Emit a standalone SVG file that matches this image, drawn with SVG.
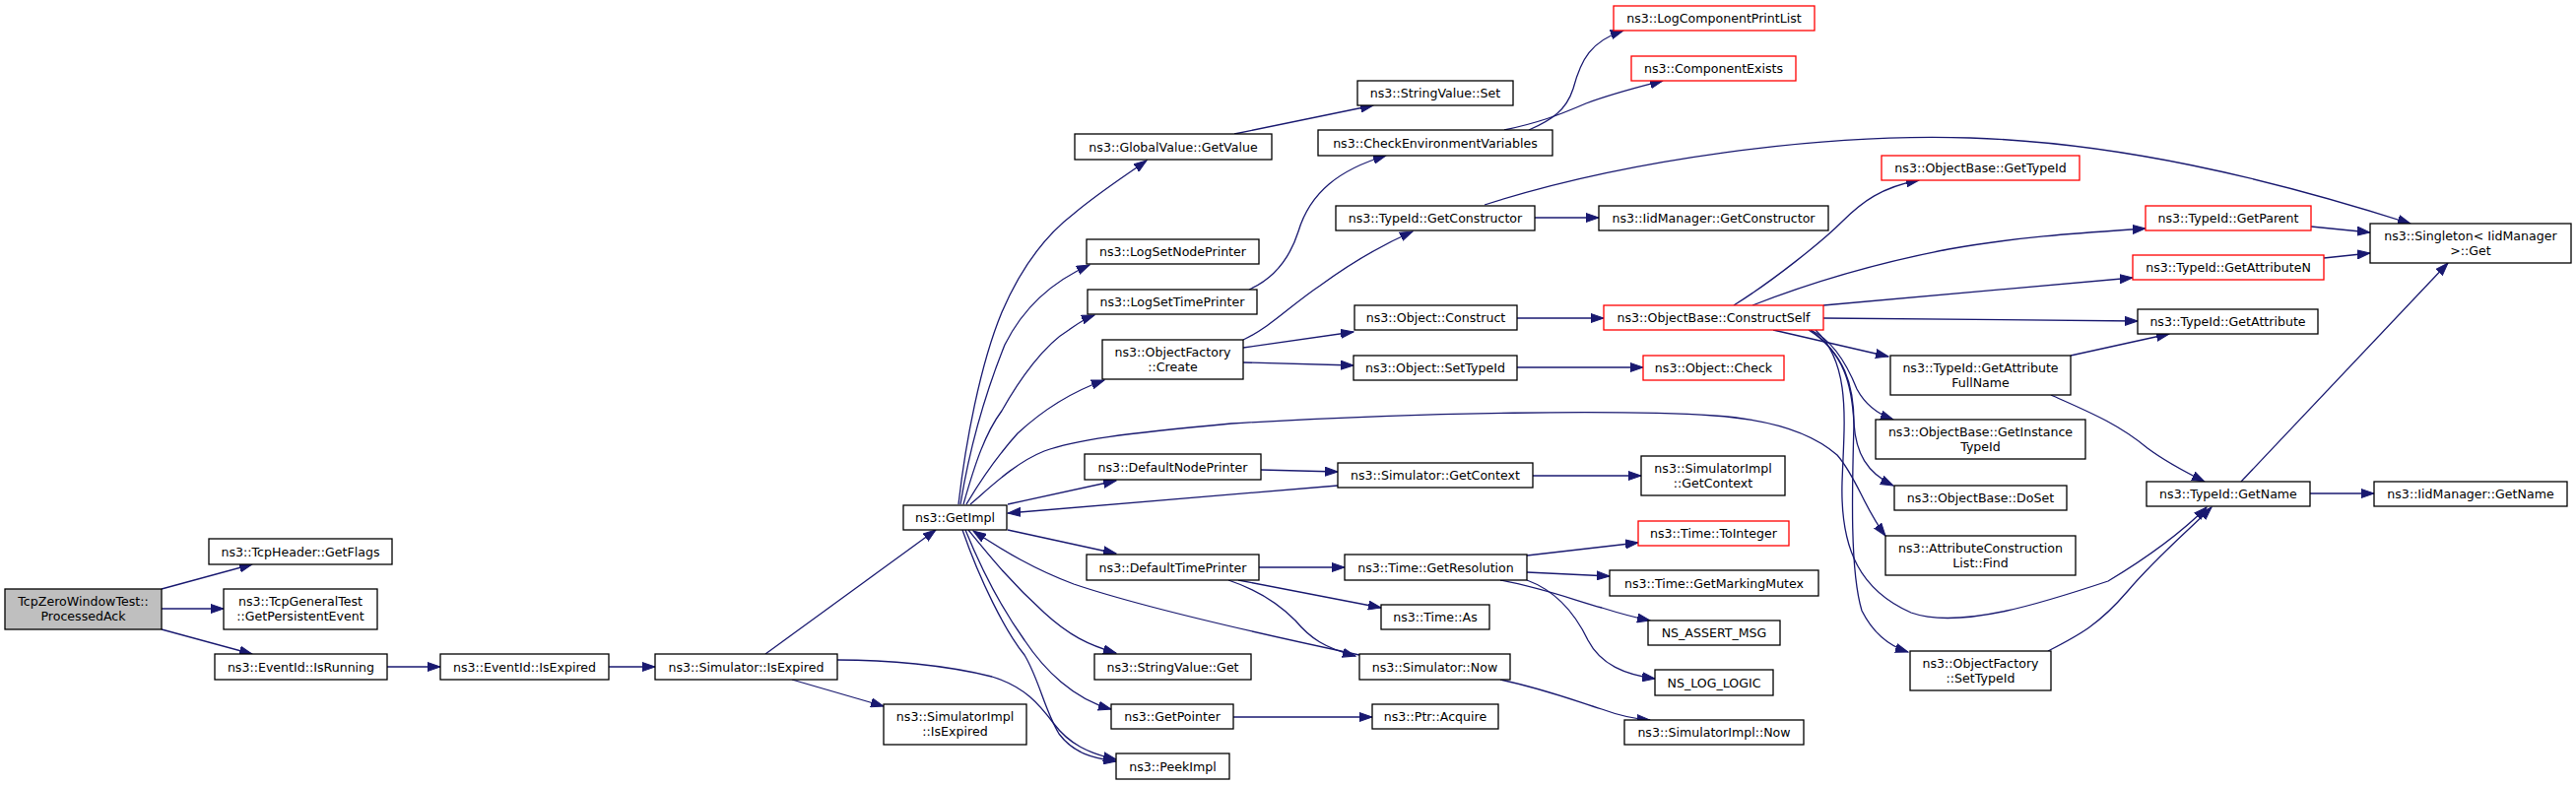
<svg xmlns="http://www.w3.org/2000/svg" width="2615" height="797" viewBox="0 0 2615 797">
<defs>
<marker id="a" markerUnits="userSpaceOnUse" markerWidth="14" markerHeight="10" viewBox="0 -5 14 10" refX="13" refY="0" orient="auto"><path d="M0,-4.5 L13,0 L0,4.5 z" fill="#191970" stroke="#191970" stroke-width="1"/></marker>
<style>
rect{fill:#fff;stroke:#000;stroke-width:1.3}
.r rect{stroke:#ff0000}
.root rect{fill:#bfbfbf}
text{font-family:"DejaVu Sans",sans-serif;font-size:12.6px;text-anchor:middle;fill:#000}
#edges path{fill:none;stroke:#191970;stroke-width:1.3;marker-end:url(#a)}
</style>
</defs>
<rect x="0" y="0" width="2615" height="797" style="fill:#fff;stroke:none"/>
<g id="edges">
<path d="M164,598 L256,573"/>
<path d="M164,618 L227,618"/>
<path d="M164,639 L256,664"/>
<path d="M393,677 L447,677"/>
<path d="M618,677 L665,677"/>
<path d="M777,664 L950,538"/>
<path d="M804,690 L897,717"/>
<path d="M850,670 C900,670 960,675 1007,687 C1040,697 1055,715 1070,735 C1085,755 1105,765 1133,771"/>
<path d="M973,512 C980,450 995,370 1017,317 C1035,275 1060,240 1090,217 C1115,196 1140,180 1164,163"/>
<path d="M975,512 C985,450 1000,400 1020,350 C1040,310 1070,285 1106,269"/>
<path d="M978,512 C990,470 1000,440 1017,417 C1035,385 1060,350 1085,335 C1095,328 1100,324 1111,320"/>
<path d="M981,512 C1000,480 1015,460 1033,440 C1060,415 1090,397 1121,386"/>
<path d="M985,512 C1005,495 1030,470 1060,458 C1090,447 1140,440 1250,430 C1450,418 1650,416 1740,422 C1800,426 1840,440 1865,462 C1885,485 1892,515 1914,544"/>
<path d="M1253,136 L1394,107"/>
<path d="M1268,294 C1295,282 1310,260 1318,235 C1330,195 1360,172 1407,158"/>
<path d="M1552,132 C1575,122 1590,112 1597,90 C1605,60 1615,42 1648,31"/>
<path d="M1527,132 C1560,125 1580,118 1610,105 C1640,94 1665,88 1688,82"/>
<path d="M1262,345 C1290,332 1310,310 1340,290 C1370,268 1400,250 1434,235"/>
<path d="M1558,221 L1623,221"/>
<path d="M1507,208 C1650,162 1850,135 2000,140 C2150,145 2300,180 2447,227"/>
<path d="M1262,353 L1374,337"/>
<path d="M1262,368 L1374,371"/>
<path d="M1540,323 L1628,323"/>
<path d="M1540,373 L1668,373"/>
<path d="M1760,310 C1800,285 1850,245 1870,225 C1890,205 1910,190 1948,183"/>
<path d="M1779,310 C1830,290 1900,268 1978,253 C2050,240 2120,236 2178,232"/>
<path d="M1851,310 L2165,282"/>
<path d="M1851,323 L2170,326"/>
<path d="M1800,335 L1917,362"/>
<path d="M1838,335 C1860,345 1875,370 1885,395 C1893,410 1905,420 1922,426"/>
<path d="M1836,335 C1872,358 1880,390 1882,430 C1884,460 1895,480 1922,493"/>
<path d="M1838,335 C1872,360 1882,390 1882,430 C1880,500 1878,580 1890,620 C1900,640 1915,655 1937,662"/>
<path d="M1843,335 C1880,370 1872,430 1870,490 C1868,560 1890,600 1940,622 C1990,640 2080,610 2140,590 C2190,560 2220,535 2240,515"/>
<path d="M2346,230 L2406,236"/>
<path d="M2359,262 L2406,257"/>
<path d="M2102,361 L2202,339"/>
<path d="M2082,401 C2120,418 2150,430 2180,455 C2200,470 2220,480 2238,489"/>
<path d="M2275,489 L2485,267"/>
<path d="M2345,501 L2410,501"/>
<path d="M2079,661 C2110,645 2130,635 2160,600 C2190,565 2220,540 2245,515"/>
<path d="M1023,512 L1133,488"/>
<path d="M1280,477 L1358,479"/>
<path d="M1358,493 L1023,521"/>
<path d="M1556,483 L1666,483"/>
<path d="M1023,538 L1133,562"/>
<path d="M1278,576 L1365,576"/>
<path d="M1257,589 L1402,617"/>
<path d="M1247,589 C1280,600 1300,615 1315,630 C1330,648 1345,658 1376,666"/>
<path d="M1380,665 C1300,648 1170,620 1090,593 C1050,578 1020,560 988,539"/>
<path d="M983,538 C1005,565 1025,590 1060,622 C1085,645 1105,655 1133,663"/>
<path d="M980,538 C995,575 1015,615 1040,650 C1060,680 1090,710 1128,720"/>
<path d="M977,538 C995,590 1020,640 1040,665 C1055,690 1060,720 1075,745 C1090,765 1110,770 1133,773"/>
<path d="M1550,564 L1663,551"/>
<path d="M1550,581 L1634,585"/>
<path d="M1523,589 C1570,598 1600,610 1626,617 C1645,623 1660,627 1675,630"/>
<path d="M1550,589 C1580,600 1600,625 1612,650 C1625,675 1650,685 1680,689"/>
<path d="M1523,690 C1570,700 1600,712 1626,720 C1645,727 1660,730 1675,731"/>
<path d="M1252,728 L1393,728"/>
</g>
<g id="n1" class="root"><rect x="5" y="598" width="159" height="41"/><text x="84.5" y="615">TcpZeroWindowTest::</text><text x="84.5" y="630">ProcessedAck</text></g>
<g id="n2"><rect x="212" y="547" width="186" height="26"/><text x="305" y="564.5">ns3::TcpHeader::GetFlags</text></g>
<g id="n3"><rect x="227" y="598" width="156" height="41"/><text x="305" y="615">ns3::TcpGeneralTest</text><text x="305" y="630">::GetPersistentEvent</text></g>
<g id="n4"><rect x="218" y="664" width="175" height="26"/><text x="305.5" y="681.5">ns3::EventId::IsRunning</text></g>
<g id="n5"><rect x="447" y="664" width="171" height="26"/><text x="532.5" y="681.5">ns3::EventId::IsExpired</text></g>
<g id="n6"><rect x="665" y="664" width="185" height="26"/><text x="757.5" y="681.5">ns3::Simulator::IsExpired</text></g>
<g id="n7"><rect x="917" y="513" width="105" height="25"/><text x="969.5" y="530">ns3::GetImpl</text></g>
<g id="n8"><rect x="897" y="715" width="145" height="41"/><text x="969.5" y="732">ns3::SimulatorImpl</text><text x="969.5" y="747">::IsExpired</text></g>
<g id="n9"><rect x="1133" y="765" width="115" height="26"/><text x="1190.5" y="782.5">ns3::PeekImpl</text></g>
<g id="n10"><rect x="1091" y="136" width="200" height="26"/><text x="1191" y="153.5">ns3::GlobalValue::GetValue</text></g>
<g id="n11"><rect x="1378" y="82" width="158" height="25"/><text x="1457" y="99">ns3::StringValue::Set</text></g>
<g id="n12"><rect x="1103" y="243" width="175" height="25"/><text x="1190.5" y="260">ns3::LogSetNodePrinter</text></g>
<g id="n13"><rect x="1104" y="294" width="172" height="25"/><text x="1190" y="311">ns3::LogSetTimePrinter</text></g>
<g id="n14"><rect x="1338" y="132" width="238" height="26"/><text x="1457" y="149.5">ns3::CheckEnvironmentVariables</text></g>
<g id="n15" class="r"><rect x="1638" y="6" width="204" height="25"/><text x="1740" y="23">ns3::LogComponentPrintList</text></g>
<g id="n16" class="r"><rect x="1656" y="57" width="167" height="25"/><text x="1739.5" y="74">ns3::ComponentExists</text></g>
<g id="n17"><rect x="1119" y="345" width="143" height="40"/><text x="1190.5" y="362">ns3::ObjectFactory</text><text x="1190.5" y="377">::Create</text></g>
<g id="n18"><rect x="1356" y="209" width="202" height="25"/><text x="1457" y="226">ns3::TypeId::GetConstructor</text></g>
<g id="n19"><rect x="1623" y="209" width="233" height="25"/><text x="1739.5" y="226">ns3::IidManager::GetConstructor</text></g>
<g id="n20"><rect x="1375" y="310" width="165" height="25"/><text x="1457.5" y="327">ns3::Object::Construct</text></g>
<g id="n21"><rect x="1374" y="361" width="166" height="25"/><text x="1457" y="378">ns3::Object::SetTypeId</text></g>
<g id="n22" class="r"><rect x="1628" y="310" width="223" height="25"/><text x="1739.5" y="327">ns3::ObjectBase::ConstructSelf</text></g>
<g id="n23" class="r"><rect x="1668" y="361" width="143" height="25"/><text x="1739.5" y="378">ns3::Object::Check</text></g>
<g id="n24" class="r"><rect x="1910" y="158" width="201" height="25"/><text x="2010.5" y="175">ns3::ObjectBase::GetTypeId</text></g>
<g id="n25" class="r"><rect x="2178" y="209" width="168" height="25"/><text x="2262" y="226">ns3::TypeId::GetParent</text></g>
<g id="n26" class="r"><rect x="2165" y="259" width="194" height="25"/><text x="2262" y="276">ns3::TypeId::GetAttributeN</text></g>
<g id="n27"><rect x="2406" y="227" width="204" height="40"/><text x="2508" y="244">ns3::Singleton&lt; IidManager</text><text x="2508" y="259">&gt;::Get</text></g>
<g id="n28"><rect x="2170" y="314" width="183" height="25"/><text x="2261.5" y="331">ns3::TypeId::GetAttribute</text></g>
<g id="n29"><rect x="1919" y="361" width="183" height="40"/><text x="2010.5" y="378">ns3::TypeId::GetAttribute</text><text x="2010.5" y="393">FullName</text></g>
<g id="n30"><rect x="1904" y="426" width="213" height="40"/><text x="2010.5" y="443">ns3::ObjectBase::GetInstance</text><text x="2010.5" y="458">TypeId</text></g>
<g id="n31"><rect x="1923" y="493" width="175" height="25"/><text x="2010.5" y="510">ns3::ObjectBase::DoSet</text></g>
<g id="n32"><rect x="1914" y="544" width="193" height="40"/><text x="2010.5" y="561">ns3::AttributeConstruction</text><text x="2010.5" y="576">List::Find</text></g>
<g id="n33"><rect x="1939" y="661" width="143" height="40"/><text x="2010.5" y="678">ns3::ObjectFactory</text><text x="2010.5" y="693">::SetTypeId</text></g>
<g id="n34"><rect x="2179" y="489" width="166" height="25"/><text x="2262" y="506">ns3::TypeId::GetName</text></g>
<g id="n35"><rect x="2410" y="489" width="196" height="25"/><text x="2508" y="506">ns3::IidManager::GetName</text></g>
<g id="n36"><rect x="1101" y="461" width="179" height="26"/><text x="1190.5" y="478.5">ns3::DefaultNodePrinter</text></g>
<g id="n37"><rect x="1358" y="470" width="198" height="25"/><text x="1457" y="487">ns3::Simulator::GetContext</text></g>
<g id="n38"><rect x="1666" y="463" width="146" height="40"/><text x="1739" y="480">ns3::SimulatorImpl</text><text x="1739" y="495">::GetContext</text></g>
<g id="n39"><rect x="1103" y="563" width="175" height="26"/><text x="1190.5" y="580.5">ns3::DefaultTimePrinter</text></g>
<g id="n40"><rect x="1365" y="563" width="185" height="26"/><text x="1457.5" y="580.5">ns3::Time::GetResolution</text></g>
<g id="n41" class="r"><rect x="1663" y="529" width="153" height="25"/><text x="1739.5" y="546">ns3::Time::ToInteger</text></g>
<g id="n42"><rect x="1634" y="579" width="212" height="26"/><text x="1740" y="596.5">ns3::Time::GetMarkingMutex</text></g>
<g id="n43"><rect x="1402" y="614" width="110" height="25"/><text x="1457" y="631">ns3::Time::As</text></g>
<g id="n44"><rect x="1673" y="630" width="134" height="25"/><text x="1740" y="647">NS_ASSERT_MSG</text></g>
<g id="n45"><rect x="1111" y="664" width="159" height="26"/><text x="1190.5" y="681.5">ns3::StringValue::Get</text></g>
<g id="n46"><rect x="1380" y="664" width="153" height="26"/><text x="1456.5" y="681.5">ns3::Simulator::Now</text></g>
<g id="n47"><rect x="1680" y="680" width="120" height="26"/><text x="1740" y="697.5">NS_LOG_LOGIC</text></g>
<g id="n48"><rect x="1128" y="715" width="124" height="25"/><text x="1190" y="732">ns3::GetPointer</text></g>
<g id="n49"><rect x="1393" y="715" width="128" height="25"/><text x="1457" y="732">ns3::Ptr::Acquire</text></g>
<g id="n50"><rect x="1649" y="731" width="182" height="25"/><text x="1740" y="748">ns3::SimulatorImpl::Now</text></g>
</svg>
